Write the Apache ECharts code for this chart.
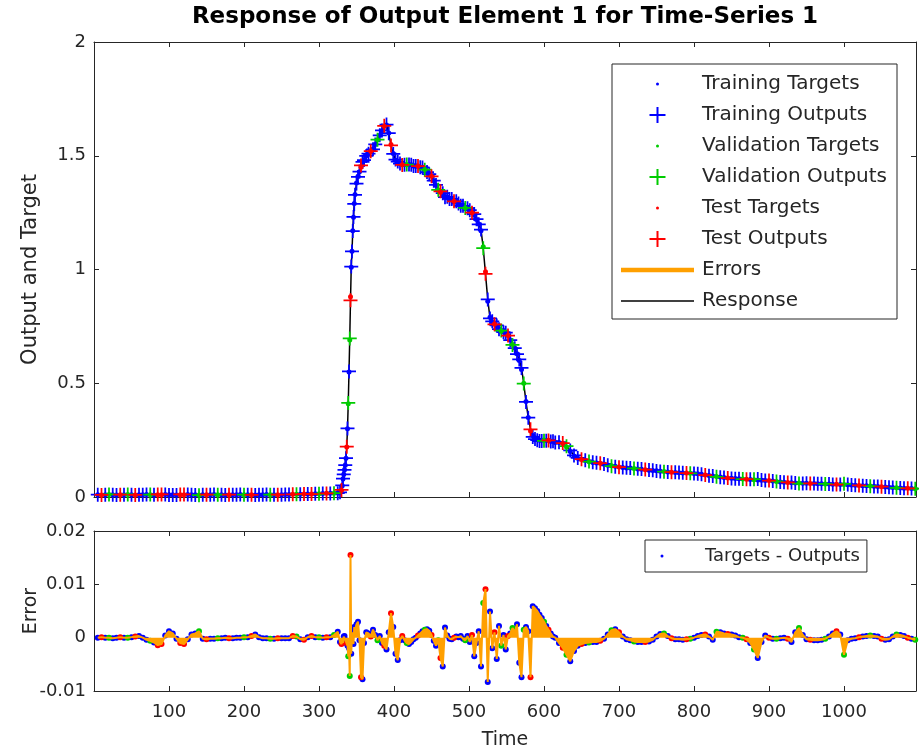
<!DOCTYPE html>
<html>
<head>
<meta charset="utf-8">
<script src="https://cdn.jsdelivr.net/npm/echarts@6/dist/echarts.min.js"></script>
<style>
  html, body { margin: 0; padding: 0; background: #fff; }
  #chart { width: 919px; height: 753px; }
</style>
</head>
<body>
<div id="chart"></div>
<script>
// sampled time steps (denser where the response moves fast)
const time = [
  5, 10, 15, 20, 25, 30, 35, 40, 45, 50, 55, 60, 65,
  70, 75, 80, 85, 90, 95, 100, 105, 110, 115, 120, 125, 130,
  135, 140, 145, 150, 155, 160, 165, 170, 175, 180, 185, 190, 195,
  200, 205, 210, 215, 220, 225, 230, 235, 240, 245, 250, 255, 260,
  265, 270, 275, 280, 285, 290, 295, 300, 305, 310, 315, 320, 325,
  328, 330, 331, 332, 333, 334, 335, 336, 337, 338, 339, 340, 341,
  342, 343, 344, 345, 346, 347, 348, 350, 352, 354, 356, 358, 360,
  363, 366, 369, 372, 375, 378, 381, 384, 387, 390,
  393, 396, 399, 402, 405, 408, 411, 414, 417, 420,
  423, 426, 429, 432, 435, 438, 441, 444, 447, 450,
  453, 456, 459, 462, 465, 468, 471, 474, 477, 480,
  483, 486, 489, 492, 495, 498, 501, 504, 507, 510,
  513, 516, 519, 522, 525, 528, 531, 534, 537, 540,
  543, 546, 549, 552, 555, 558, 561, 564, 567, 570,
  573, 576, 579, 582, 585, 588, 591, 594, 597, 600,
  603, 606, 609, 612,
  615, 620, 625, 630, 635, 640, 645, 650, 655, 660,
  665, 670, 675, 680, 685, 690, 695, 700, 705, 710,
  715, 720, 725, 730, 735, 740, 745, 750, 755, 760,
  765, 770, 775, 780, 785, 790, 795, 800, 805, 810,
  815, 820, 825, 830, 835, 840, 845, 850, 855, 860,
  865, 870, 875, 880, 885, 890, 895, 900, 905, 910,
  915, 920, 925, 930, 935, 940, 945, 950, 955, 960,
  965, 970, 975, 980, 985, 990, 995, 1000, 1005, 1010,
  1015, 1020, 1025, 1030, 1035, 1040, 1045, 1050, 1055, 1060,
  1065, 1070, 1075, 1080, 1085, 1090, 1095
];

// targets
const target = [
  0.010, 0.009, 0.010, 0.011, 0.010, 0.009, 0.010, 0.010, 0.011, 0.010, 0.009, 0.010, 0.010,
  0.011, 0.010, 0.009, 0.010, 0.010, 0.011, 0.010, 0.010, 0.009, 0.010, 0.010, 0.011, 0.010,
  0.010, 0.009, 0.010, 0.010, 0.010, 0.011, 0.010, 0.010, 0.009, 0.010, 0.010, 0.010, 0.011,
  0.010, 0.010, 0.010, 0.009, 0.010, 0.010, 0.011, 0.010, 0.010, 0.010, 0.010, 0.011, 0.011,
  0.012, 0.012, 0.012, 0.013, 0.013, 0.013, 0.014, 0.014, 0.015, 0.016, 0.016, 0.017, 0.018,
  0.020, 0.030, 0.05, 0.08, 0.10, 0.12, 0.14, 0.17, 0.22, 0.30, 0.41, 0.55, 0.69,
  0.88, 1.01, 1.08, 1.17, 1.23, 1.29, 1.33, 1.38, 1.41, 1.43, 1.45, 1.465, 1.48,
  1.50, 1.51, 1.52, 1.53, 1.55, 1.57, 1.59, 1.61, 1.63, 1.635,
  1.60, 1.55, 1.51, 1.48, 1.47, 1.465, 1.46, 1.46, 1.46, 1.46,
  1.46, 1.455, 1.455, 1.455, 1.45, 1.45, 1.44, 1.43, 1.42, 1.41,
  1.39, 1.37, 1.35, 1.34, 1.33, 1.32, 1.32, 1.31, 1.31, 1.30,
  1.30, 1.29, 1.28, 1.28, 1.27, 1.27, 1.26, 1.25, 1.24, 1.22,
  1.20, 1.17, 1.10, 0.99, 0.86, 0.79, 0.77, 0.76, 0.75, 0.74,
  0.73, 0.725, 0.72, 0.71, 0.69, 0.67, 0.655, 0.63, 0.60, 0.56,
  0.50, 0.42, 0.35, 0.29, 0.27, 0.26, 0.255, 0.25, 0.25, 0.25,
  0.25, 0.25, 0.245, 0.245,
  0.24, 0.24, 0.235, 0.22, 0.20, 0.18, 0.17, 0.165, 0.16, 0.155,
  0.152, 0.15, 0.148, 0.145, 0.14, 0.137, 0.135, 0.132, 0.13, 0.128,
  0.127, 0.125, 0.123, 0.122, 0.12, 0.118, 0.117, 0.115, 0.113, 0.112,
  0.11, 0.109, 0.108, 0.107, 0.106, 0.105, 0.104, 0.103, 0.102, 0.10,
  0.097, 0.094, 0.092, 0.09, 0.088, 0.086, 0.084, 0.082, 0.081, 0.08,
  0.079, 0.078, 0.077, 0.076, 0.075, 0.074, 0.073, 0.072, 0.07, 0.068,
  0.066, 0.065, 0.064, 0.063, 0.062, 0.061, 0.06, 0.06, 0.059, 0.059,
  0.058, 0.058, 0.057, 0.057, 0.056, 0.056, 0.055, 0.055, 0.054, 0.053,
  0.052, 0.051, 0.05, 0.049, 0.048, 0.047, 0.046, 0.045, 0.044, 0.043,
  0.042, 0.041, 0.04, 0.039, 0.038, 0.037, 0.036
];

// targets - outputs
const error = [
  0.0000, 0.0001, 0.0000, 0.0000, -0.0001, 0.0000, 0.0001, 0.0000, 0.0000, 0.0001, 0.0002, 0.0003, 0.0000,
  -0.0004, -0.0006, -0.0009, -0.0014, -0.0012, 0.0004, 0.0012, 0.0008, -0.0002, -0.0010, -0.0012, -0.0003, 0.0006,
  0.0008, 0.0012, -0.0002, -0.0003, -0.0002, -0.0002, -0.0001, -0.0001, 0.0000, -0.0001, -0.0001, 0.0000, 0.0000,
  0.0001, 0.0001, 0.0003, 0.0006, 0.0001, -0.0001, -0.0001, -0.0002, -0.0002, -0.0001, -0.0001, -0.0001, -0.0001,
  0.0003, 0.0002, -0.0003, -0.0004, 0.0001, 0.0003, 0.0001, 0.0001, 0.0000, 0.0001, 0.0001, 0.0005, 0.0011,
  -0.0008, -0.0012, -0.0006, -0.0010, 0.0002, 0.0003, -0.0004, -0.0008, -0.0010, -0.0015, -0.0035, -0.0020, -0.0072,
  0.0155, -0.0030, 0.0005, 0.0010, -0.0012, 0.0020, 0.0015, 0.0025, 0.0030, -0.0005, -0.0074, -0.0078, -0.0010,
  0.0010, 0.0008, 0.0002, 0.0015, 0.0005, -0.0005, 0.0003, -0.0010, -0.0015, -0.0022,
  0.0010, 0.0046, 0.0020, -0.0030, -0.0042, -0.0005, 0.0003, -0.0005, -0.0010, -0.0012,
  -0.0008, -0.0003, 0.0000, 0.0004, 0.0008, 0.0012, 0.0015, 0.0016, 0.0013, 0.0005,
  -0.0006, -0.0015, -0.0005, -0.0038, -0.0054, 0.0019, 0.0004, -0.0002, -0.0003, 0.0000,
  0.0002, 0.0001, 0.0003, -0.0002, -0.0005, 0.0003, -0.0008, 0.0005, -0.0035, -0.0010,
  0.0012, -0.0054, 0.0065, 0.0091, -0.0083, 0.0049, -0.0020, 0.0010, -0.0040, 0.0022,
  -0.0015, 0.0005, -0.0022, 0.0003, 0.0008, 0.0018, 0.0010, 0.0025, -0.0047, -0.0074,
  0.0015, 0.0020, 0.0012, -0.0074, 0.0059, 0.0055, 0.0050, 0.0043, 0.0037, 0.0030,
  0.0022, 0.0015, 0.0008, 0.0002,
  0.0000, -0.0010, -0.0019, -0.0032, -0.0044, -0.0025, -0.0015, -0.0012, -0.0010, -0.0009,
  -0.0008, -0.0008, -0.0006, -0.0002, 0.0006, 0.0014, 0.0016, 0.0010, 0.0002, -0.0003,
  -0.0005, -0.0007, -0.0008, -0.0008, -0.0008, -0.0007, -0.0004, 0.0002, 0.0007, 0.0008,
  0.0003, -0.0001, -0.0003, -0.0003, -0.0004, -0.0003, -0.0002, 0.0000, 0.0003, 0.0005,
  0.0006, 0.0002, -0.0004, 0.0011, 0.0010, 0.0008, 0.0007, 0.0006, 0.0004, 0.0001,
  0.0000, -0.0003, -0.0010, -0.0022, -0.0038, -0.0008, 0.0004, 0.0000, -0.0002, -0.0002,
  -0.0001, 0.0000, -0.0002, -0.0008, 0.0010, 0.0018, 0.0005, -0.0003, -0.0004, -0.0005,
  -0.0005, -0.0004, -0.0002, 0.0002, 0.0008, 0.0012, 0.0006, -0.0032, -0.0005, -0.0002,
  -0.0001, 0.0001, 0.0002, 0.0003, 0.0004, 0.0003, 0.0002, -0.0002, -0.0004, -0.0003,
  0.0002, 0.0006, 0.0005, 0.0003, 0.0000, -0.0002, -0.0004
];

// which time steps belong to the validation and test sets (the rest are training)
const valTimes = [20, 45, 75, 140, 165, 200, 235, 270, 300, 320, 339, 341,
  378, 417, 441, 459, 495, 519, 543, 558, 573, 600,
  630, 660, 690, 720, 760, 795, 830, 865, 880, 910, 940, 975, 1000, 1035, 1070, 1095];
const testTimes = [10, 35, 55, 85, 90, 115, 120, 150, 180, 210, 245, 265, 280, 290, 310,
  330, 337, 342, 356, 369, 387, 396, 411, 432, 450, 462, 480, 504, 522, 534, 552, 582, 606,
  625, 650, 675, 700, 735, 770, 790, 815, 845, 870, 900, 925, 955, 990, 1020, 1050, 1085];

const xTickLabels = [100, 200, 300, 400, 500, 600, 700, 800, 900, 1000];

const output = target.map((v, i) => +(v - error[i]).toFixed(5));

const groupOf = (t) => valTimes.includes(t) ? "val" : testTimes.includes(t) ? "test" : "train";
const pick = (grp, ys) => time.map((t, i) => [t, ys[i]]).filter((p) => groupOf(p[0]) === grp);

const BLUE = "#0000ff", GREEN = "#00cc00", RED = "#ff0000", ORANGE = "#ffa000", AXIS = "#262626";
const FONT = "DejaVu Sans";
const plus = "path://M7,0h2v7h7v2h-7v7h-2v-7h-7v-2h7Z";
const dotIcon = "path://M0,0M16,16M6.5,8a1.5,1.5 0 1,0 3,0a1.5,1.5 0 1,0 -3,0Z";
const thickIcon = "path://M0,0H73V4.5H0Z";
const thinIcon = "path://M0,0H73V1.4H0Z";

const tickStyle = { inside: true, length: 5, lineStyle: { color: AXIS } };
const lineStyle = { onZero: false, lineStyle: { color: AXIS, width: 1 } };
const labelStyle = { color: AXIS, fontSize: 18, fontFamily: FONT };

const xBase = { type: "value", min: 0, max: 1096, interval: 100, splitLine: { show: false },
  axisLine: lineStyle, axisTick: tickStyle };

let chart = echarts.init(document.getElementById("chart"));
chart.setOption({
  animation: false,
  backgroundColor: "#fff",
  graphic: [{
    type: "text", x: 505, y: 6,
    style: { text: "Response of Output Element 1 for Time-Series 1", fill: "#000",
      font: "bold 23px 'DejaVu Sans'", textAlign: "center", textVerticalAlign: "top" }
  }],
  grid: [
    { left: 94, top: 42, width: 822, height: 455 },
    { left: 94, top: 531, width: 822, height: 160 }
  ],
  xAxis: [
    Object.assign({ gridIndex: 0, axisLabel: { show: false } }, xBase),
    Object.assign({ gridIndex: 0, position: "top", axisLabel: { show: false } }, xBase),
    Object.assign({ gridIndex: 1, name: "Time", nameLocation: "middle", nameGap: 40,
      nameTextStyle: { color: AXIS, fontSize: 19, fontFamily: FONT },
      axisLabel: Object.assign({ margin: 12, showMaxLabel: false,
        formatter: (v) => (xTickLabels.includes(v) ? String(v) : "") }, labelStyle) }, xBase),
    Object.assign({ gridIndex: 1, position: "top", axisLabel: { show: false } }, xBase)
  ],
  yAxis: [
    { gridIndex: 0, type: "value", min: 0, max: 2, interval: 0.5, splitLine: { show: false },
      axisLine: lineStyle, axisTick: tickStyle,
      name: "Output and Target", nameLocation: "middle", nameGap: 53, nameMoveOverlap: false,
      nameTextStyle: { color: AXIS, fontSize: 21, fontFamily: FONT },
      axisLabel: Object.assign({ margin: 8, formatter: (v) => String(+v.toFixed(1)) }, labelStyle) },
    { gridIndex: 0, type: "value", position: "right", min: 0, max: 2, interval: 0.5,
      splitLine: { show: false }, axisLine: lineStyle, axisTick: tickStyle, axisLabel: { show: false } },
    { gridIndex: 1, type: "value", min: -0.01, max: 0.02, interval: 0.01, splitLine: { show: false },
      axisLine: lineStyle, axisTick: tickStyle,
      name: "Error", nameLocation: "middle", nameGap: 53, nameMoveOverlap: false,
      nameTextStyle: { color: AXIS, fontSize: 19, fontFamily: FONT },
      axisLabel: Object.assign({ margin: 8, formatter: (v) => String(+v.toFixed(3)) }, labelStyle) },
    { gridIndex: 1, type: "value", position: "right", min: -0.01, max: 0.02, interval: 0.01,
      splitLine: { show: false }, axisLine: lineStyle, axisTick: tickStyle, axisLabel: { show: false } }
  ],
  legend: [
    {
      orient: "vertical", left: 612, top: 64,
      itemWidth: 73, itemHeight: 16, itemGap: 11,
      padding: [10, 10, 8, 9],
      borderColor: AXIS, borderWidth: 1, backgroundColor: "#fff",
      selectedMode: false,
      textStyle: { fontSize: 20, lineHeight: 20, color: AXIS, fontFamily: FONT, padding: [0, 0, 0, 3] },
      data: [
        { name: "Training Targets", icon: dotIcon },
        { name: "Training Outputs", icon: plus },
        { name: "Validation Targets", icon: dotIcon },
        { name: "Validation Outputs", icon: plus },
        { name: "Test Targets", icon: dotIcon },
        { name: "Test Outputs", icon: plus },
        { name: "Errors", icon: thickIcon },
        { name: "Response", icon: thinIcon }
      ]
    },
    {
      orient: "vertical", left: 645, top: 540,
      itemWidth: 70, itemHeight: 16,
      padding: [6, 7, 6, 9],
      borderColor: AXIS, borderWidth: 1, backgroundColor: "#fff",
      selectedMode: false,
      textStyle: { fontSize: 18, lineHeight: 20, color: AXIS, fontFamily: FONT, padding: [0, 0, 0, 3] },
      data: [{ name: "Targets - Outputs", icon: dotIcon }]
    }
  ],
  series: [
    { name: "Response", type: "line", xAxisIndex: 0, yAxisIndex: 0, showSymbol: false, symbol: "none", z: 1,
      lineStyle: { color: "#000", width: 1.5 }, itemStyle: { color: "#000" },
      data: time.map((t, i) => [t, output[i]]) },
    { name: "Training Targets", type: "scatter", xAxisIndex: 0, yAxisIndex: 0,
      symbol: "circle", symbolSize: 5, itemStyle: { color: BLUE, opacity: 1 }, data: pick("train", target) },
    { name: "Training Outputs", type: "scatter", xAxisIndex: 0, yAxisIndex: 0,
      symbol: plus, symbolSize: 14, itemStyle: { color: BLUE, opacity: 1 }, data: pick("train", output) },
    { name: "Validation Targets", type: "scatter", xAxisIndex: 0, yAxisIndex: 0,
      symbol: "circle", symbolSize: 5, itemStyle: { color: GREEN, opacity: 1 }, data: pick("val", target) },
    { name: "Validation Outputs", type: "scatter", xAxisIndex: 0, yAxisIndex: 0,
      symbol: plus, symbolSize: 14, itemStyle: { color: GREEN, opacity: 1 }, data: pick("val", output) },
    { name: "Test Targets", type: "scatter", xAxisIndex: 0, yAxisIndex: 0,
      symbol: "circle", symbolSize: 5, itemStyle: { color: RED, opacity: 1 }, data: pick("test", target) },
    { name: "Test Outputs", type: "scatter", xAxisIndex: 0, yAxisIndex: 0,
      symbol: plus, symbolSize: 14, itemStyle: { color: RED, opacity: 1 }, data: pick("test", output) },
    { name: "Errors", type: "line", xAxisIndex: 2, yAxisIndex: 2, showSymbol: false, symbol: "none",
      lineStyle: { color: ORANGE, width: 2 }, itemStyle: { color: ORANGE },
      areaStyle: { color: ORANGE, opacity: 1 },
      data: time.map((t, i) => [t, error[i]]) },
    { name: "Targets - Outputs", type: "scatter", xAxisIndex: 2, yAxisIndex: 2,
      symbol: "circle", symbolSize: 6, itemStyle: { color: BLUE, opacity: 1 }, data: pick("train", error) },
    { name: "Validation Errors", type: "scatter", xAxisIndex: 2, yAxisIndex: 2,
      symbol: "circle", symbolSize: 6, itemStyle: { color: GREEN, opacity: 1 }, data: pick("val", error) },
    { name: "Test Errors", type: "scatter", xAxisIndex: 2, yAxisIndex: 2,
      symbol: "circle", symbolSize: 6, itemStyle: { color: RED, opacity: 1 }, data: pick("test", error) }
  ]
});
</script>
</body>
</html>
